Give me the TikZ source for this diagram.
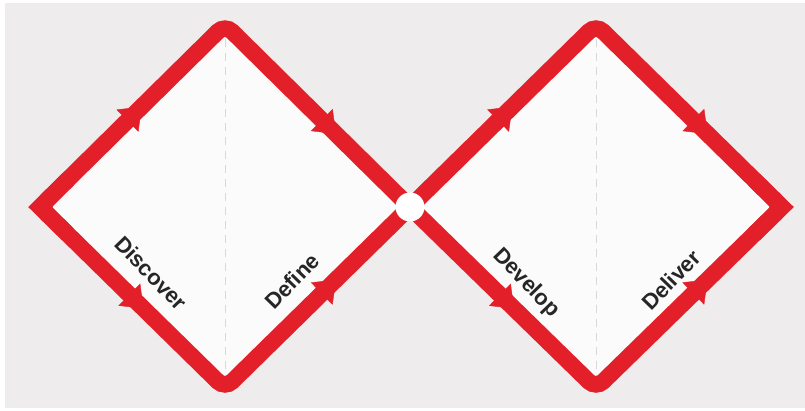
\documentclass[tikz,border=0pt]{standalone}
\usepackage{fontspec}
\setmainfont{Liberation Sans}
\usepackage{tikz}
\usetikzlibrary{arrows.meta, decorations.markings, calc}
\definecolor{ddRed}{HTML}{E3202A}
\definecolor{ddGray}{HTML}{EEECEC}
\definecolor{ddPaper}{HTML}{FBFBFB}
\definecolor{ddDash}{HTML}{D9D9D9}
\definecolor{ddText}{HTML}{262626}

\begin{document}
\begin{tikzpicture}[
		x=1pt, y=-1pt,
		diamondline/.style={
			draw=ddRed, line width=16.5pt, rounded corners=10pt
		},
		tipline/.style={
			draw=ddRed, line width=16.5pt, line join=miter
		},
		midline/.style={
			draw=ddDash, line width=0.9pt, dash pattern=on 8pt off 6pt
		},
		midarrow/.style={
			decoration={markings, mark=at position #1 with
				{\arrow[ddRed]{Triangle[length=20pt, width=31pt]}}},
			postaction={decorate}
		},
		phase/.style={
			font=\fontsize{22}{26}\selectfont\bfseries, text=ddText,
			inner sep=0pt
		},
		hub/.style={
			circle, fill=white, minimum size=29pt, inner sep=0pt
		}
		]
		
		\fill[white] (0,0) rectangle (805,410);
		\fill[ddGray] (5,3) rectangle (805,408);
		\useasboundingbox (0,0) rectangle (805,410);
		
		\coordinate (pL) at (40,207);
		\coordinate (pT) at (225,24.5);
		\coordinate (pR) at (410,207);
		\coordinate (pB) at (225,388.5);
		
		\coordinate (sL) at (410,207);
		\coordinate (sT) at (596,24.5);
		\coordinate (sR) at (782,207);
		\coordinate (sB) at (596,388.5);
		
		\fill[ddPaper] (pL) -- (pT) -- (pR) -- (pB) -- cycle;
		\fill[ddPaper] (sL) -- (sT) -- (sR) -- (sB) -- cycle;
		
		\draw[midline] (pT) -- (pB);
		\draw[midline] (sT) -- (sB);
		
		\draw[diamondline] (pL) -- (pT) -- (pR) -- (pB) -- cycle;
		\draw[diamondline] (sL) -- (sT) -- (sR) -- (sB) -- cycle;
		\draw[tipline] ($(pL)!0.15!(pT)$) -- (pL) -- ($(pL)!0.15!(pB)$);
		\draw[tipline] ($(sR)!0.15!(sT)$) -- (sR) -- ($(sR)!0.15!(sB)$);
		
		\path[midarrow=0.55] (pL) -- (pT);
		\path[midarrow=0.6] (pT) -- (pR);
		\path[midarrow=0.56] (pL) -- (pB);
		\path[midarrow=0.6] (pB) -- (pR);
		
		\path[midarrow=0.55] (sL) -- (sT);
		\path[midarrow=0.6] (sT) -- (sR);
		\path[midarrow=0.56] (sL) -- (sB);
		\path[midarrow=0.6] (sB) -- (sR);
		
		\node[hub] (join) at (pR) {};
		
		\node[phase, rotate=-46] (discover) at (151,273) {Discover};
		\node[phase, rotate=46] (define) at (292,281) {Define};
		\node[phase, rotate=-46] (develop) at (526,283) {Develop};
		\node[phase, rotate=46] (deliver) at (671,280) {Deliver};
		
	\end{tikzpicture}
\end{document}
